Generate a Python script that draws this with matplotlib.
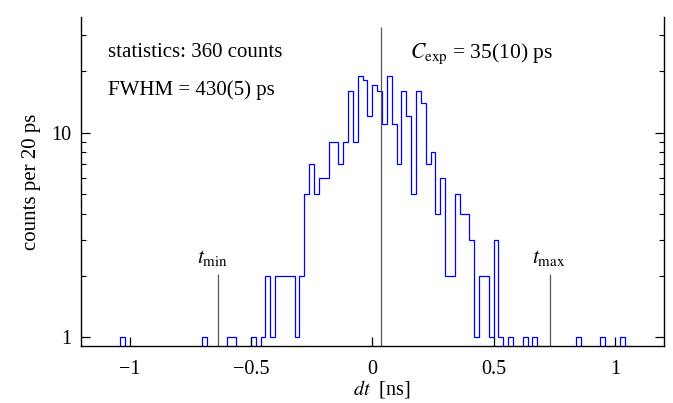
import numpy as np
import matplotlib
matplotlib.use("Agg")
import matplotlib.pyplot as plt
from matplotlib.ticker import LogLocator, NullFormatter

plt.rcParams['font.family'] = ['Liberation Serif', 'DejaVu Serif']
plt.rcParams['mathtext.fontset'] = 'stix'

# histogram of dt, 20 ps bins; only non-empty bins listed (left edge in ns)
bin_width = 0.02
bin_left = [-1.04, -0.70, -0.60, -0.58, -0.50, -0.46, -0.44, -0.42,
            -0.40, -0.38, -0.36, -0.34, -0.32, -0.30, -0.28, -0.26,
            -0.24, -0.22, -0.20, -0.18, -0.16, -0.14, -0.12, -0.10,
            -0.08, -0.06, -0.04, -0.02, 0.00, 0.02, 0.04, 0.06,
            0.08, 0.10, 0.12, 0.14, 0.16, 0.18, 0.20, 0.22,
            0.24, 0.26, 0.28, 0.30, 0.32, 0.34, 0.36, 0.38,
            0.40, 0.42, 0.44, 0.46, 0.48, 0.50, 0.52, 0.56,
            0.62, 0.66, 0.84, 0.94, 1.02]
counts = [1, 1, 1, 1, 1, 1, 2, 1,
          2, 2, 2, 2, 1, 2, 5, 7,
          5, 6, 6, 9, 9, 7, 9, 16,
          9, 19, 18, 12, 17, 16, 11, 19,
          11, 7, 16, 12, 5, 16, 14, 7,
          8, 4, 6, 2, 2, 5, 4, 4,
          3, 1, 2, 2, 1, 3, 1, 1,
          1, 1, 1, 1, 1]

c_exp = 0.035      # ns
t_min = -0.637
t_max = 0.733
marker_top = 2.05  # height of t_min / t_max markers

x_range = (-1.2, 1.2)
y_range = (0.907, 36.8)

# full histogram on a regular grid
edges = np.round(np.arange(x_range[0], x_range[1] + bin_width / 2, bin_width), 4)
full = np.zeros(len(edges) - 1)
idx = np.round((np.array(bin_left) - x_range[0]) / bin_width).astype(int)
full[idx] = counts
floor = 1e-3
full = np.where(full > 0, full, floor)

fig = plt.figure(figsize=(6.73, 4.03), dpi=100)
ax = fig.add_axes([0.1204, 0.1414, 0.8655, 0.8168])

ax.stairs(full, edges, baseline=floor, color='#0000ff', lw=0.9)

ax.set_yscale('log')
ax.set_xlim(*x_range)
ax.set_ylim(*y_range)

ax.vlines(c_exp, floor, 32.9, color='0.35', lw=0.9)
ax.vlines([t_min, t_max], floor, marker_top, color='0.35', lw=0.9)

fs = 15
ax.annotate(r'$t_{\mathrm{min}}$', xy=(t_min, marker_top), xytext=(-4, 7.5),
            textcoords='offset points', ha='center', va='baseline', fontsize=15.5)
ax.annotate(r'$t_{\mathrm{max}}$', xy=(t_max, marker_top), xytext=(-1, 7.5),
            textcoords='offset points', ha='center', va='baseline', fontsize=15.5)

ax.text(0.0464, 0.877, 'statistics: 360 counts', transform=ax.transAxes,
        fontsize=fs, va='baseline')
ax.text(0.0464, 0.762, 'FWHM = 430(5) ps', transform=ax.transAxes,
        fontsize=fs, va='baseline')
ax.text(0.565, 0.875, r'$C_{\mathrm{exp}}$ = 35(10) ps', transform=ax.transAxes,
        fontsize=15.5, va='baseline')

ax.set_xticks([-1, -0.5, 0, 0.5, 1], ['\u22121', '\u22120.5', '0', '0.5', '1'])
ax.yaxis.set_major_locator(LogLocator(base=10, subs=(1.0,)))
ax.yaxis.set_minor_locator(LogLocator(base=10, subs=np.arange(2, 10)))
ax.yaxis.set_minor_formatter(NullFormatter())
ax.set_yticks([1, 10], ['1', '10'])

ax.spines['top'].set_visible(False)
for s in ['left', 'right', 'bottom']:
    ax.spines[s].set_linewidth(1.0)
ax.tick_params(axis='both', which='major', direction='in', length=6.5,
               width=0.9, labelsize=14.5)
ax.tick_params(axis='y', which='both', right=True, left=True)
ax.tick_params(axis='y', which='minor', direction='in', length=3.6, width=0.8)
ax.tick_params(axis='x', which='major', pad=10)
ax.tick_params(axis='y', which='major', pad=7)

ax.set_xlabel(r'$dt$  [ns]', fontsize=14.5, labelpad=-1, x=0.516)
ax.set_ylabel('counts per 20 ps', fontsize=fs, labelpad=7)

fig.savefig('out.png', dpi=100)
